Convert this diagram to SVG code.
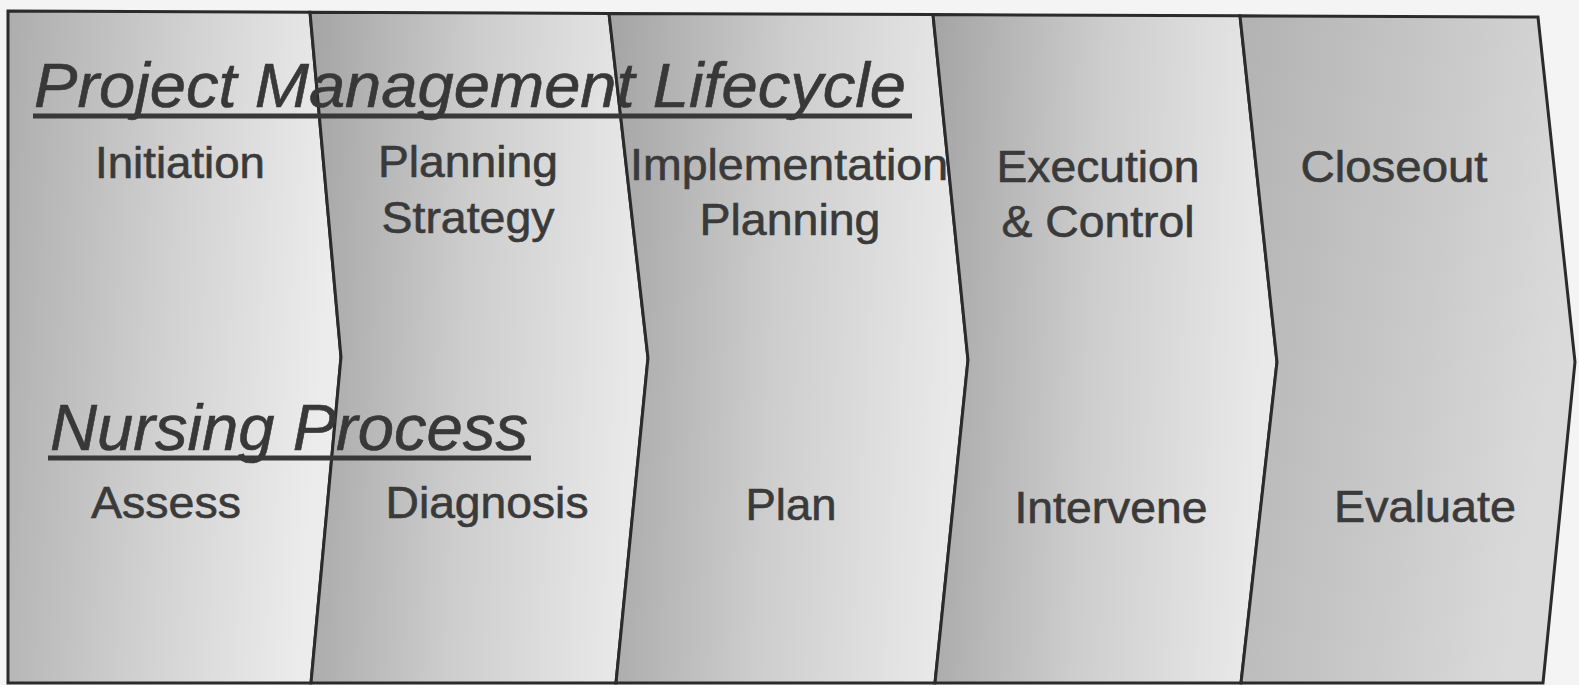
<svg xmlns="http://www.w3.org/2000/svg" width="1579" height="685" viewBox="0 0 1579 685">
<defs>
<linearGradient id="g1" x1="0" y1="0" x2="1" y2="0.15">
<stop offset="0" stop-color="#adadad"/><stop offset="0.55" stop-color="#d2d2d2"/><stop offset="1" stop-color="#ececec"/>
</linearGradient>
<linearGradient id="g2" x1="0" y1="0" x2="1" y2="0.1">
<stop offset="0" stop-color="#a4a4a4"/><stop offset="0.5" stop-color="#cdcdcd"/><stop offset="1" stop-color="#e9e9e9"/>
</linearGradient>
<linearGradient id="g5" x1="0" y1="0" x2="1" y2="0.3">
<stop offset="0" stop-color="#b2b2b2"/><stop offset="0.6" stop-color="#c9c9c9"/><stop offset="1" stop-color="#dadada"/>
</linearGradient>
<style>
.panel{stroke:#2b2b2b;stroke-width:3;stroke-linejoin:miter}
.lbl{font-family:"Liberation Sans",Arial,sans-serif;font-size:44px;fill:#3a3a3a;stroke:#3a3a3a;stroke-width:0.6;text-anchor:middle}
.hdr{font-family:"Liberation Sans",Arial,sans-serif;font-style:italic;fill:#383838;stroke:#383838;stroke-width:0.6}
.ul{stroke:#383838;stroke-width:5}
</style>
</defs>
<rect width="1579" height="685" fill="#f4f4f4"/>
<g id="panel-1">
<polygon class="panel" fill="url(#g1)" points="8,11 310,12.2 341,357 311,683 8,683"/>
<text class="lbl" x="180" y="178" textLength="170" lengthAdjust="spacingAndGlyphs">Initiation</text>
<text class="lbl" x="166" y="518" textLength="150" lengthAdjust="spacingAndGlyphs">Assess</text>
</g>
<g id="panel-2">
<polygon class="panel" fill="url(#g2)" points="310,12.2 609,13.4 648,358 616,683 311,683 341,357"/>
<text class="lbl" x="468" y="177" textLength="180" lengthAdjust="spacingAndGlyphs">Planning</text>
<text class="lbl" x="468" y="233" textLength="173" lengthAdjust="spacingAndGlyphs">Strategy</text>
<text class="lbl" x="487" y="518" textLength="203" lengthAdjust="spacingAndGlyphs">Diagnosis</text>
</g>
<g id="panel-3">
<polygon class="panel" fill="url(#g2)" points="609,13.4 933,14.6 968,360 935,683 616,683 648,358"/>
<text class="lbl" x="789" y="180" textLength="318" lengthAdjust="spacingAndGlyphs">Implementation</text>
<text class="lbl" x="790" y="235" textLength="181" lengthAdjust="spacingAndGlyphs">Planning</text>
<text class="lbl" x="791" y="520" textLength="91" lengthAdjust="spacingAndGlyphs">Plan</text>
</g>
<g id="panel-4">
<polygon class="panel" fill="url(#g2)" points="933,14.6 1240,15.8 1277,362 1241,683 935,683 968,360"/>
<text class="lbl" x="1098" y="182" textLength="203" lengthAdjust="spacingAndGlyphs">Execution</text>
<text class="lbl" x="1098" y="237" textLength="193" lengthAdjust="spacingAndGlyphs">&amp; Control</text>
<text class="lbl" x="1111" y="523" textLength="193" lengthAdjust="spacingAndGlyphs">Intervene</text>
</g>
<g id="panel-5">
<polygon class="panel" fill="url(#g5)" points="1240,15.8 1538,17 1575,362 1543,683 1241,683 1277,362"/>
<text class="lbl" x="1394" y="182" textLength="187" lengthAdjust="spacingAndGlyphs">Closeout</text>
<text class="lbl" x="1425" y="522" textLength="182" lengthAdjust="spacingAndGlyphs">Evaluate</text>
</g>
<g id="header-pm">
<text class="hdr" x="34" y="107" font-size="63" textLength="872" lengthAdjust="spacingAndGlyphs">Project Management Lifecycle</text>
<line class="ul" x1="33" y1="116" x2="912" y2="116"/>
</g>
<g id="header-nursing">
<text class="hdr" x="50" y="450" font-size="64" textLength="478" lengthAdjust="spacingAndGlyphs">Nursing Process</text>
<line class="ul" x1="48" y1="458" x2="531" y2="458"/>
</g>
</svg>
